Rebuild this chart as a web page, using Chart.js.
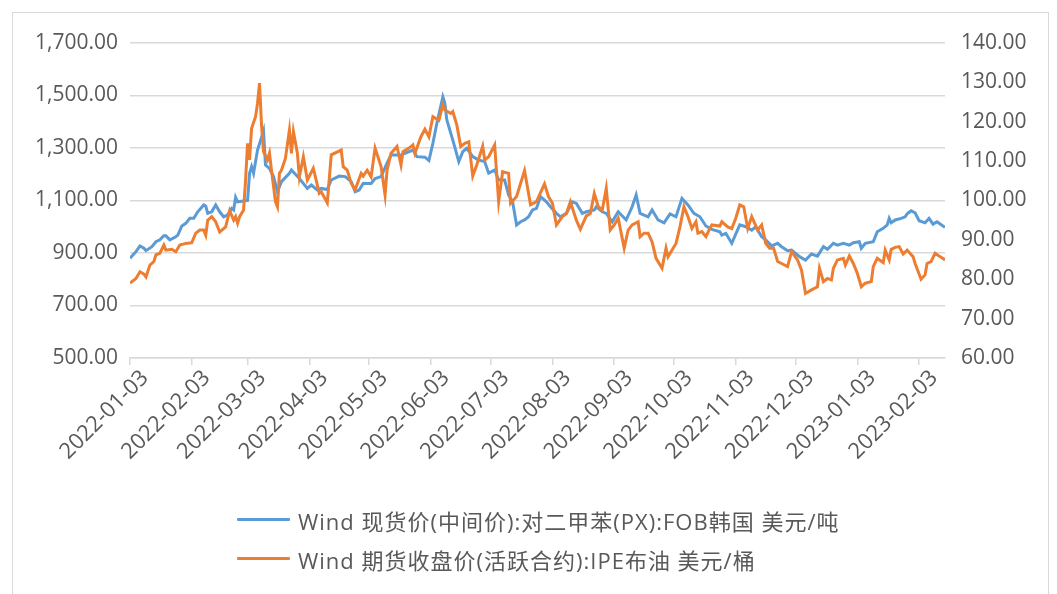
<!DOCTYPE html>
<html><head><meta charset="utf-8">
<script src="https://cdn.jsdelivr.net/npm/chart.js@4.4.1/dist/chart.umd.min.js"></script>
<style>
html,body{margin:0;padding:0;background:#fff;}
#wrap{position:relative;width:1057px;height:594px;overflow:hidden;background:#fff;}
#frame{position:absolute;left:12px;top:12px;width:1037px;height:620px;border:1px solid #d9d9d9;box-sizing:border-box;}
#c{position:absolute;left:0;top:0;}
#legend{position:absolute;left:237px;top:500px;font-family:'Open Sans','Noto Sans CJK SC',sans-serif;font-size:22px;letter-spacing:1px;color:#595959;}
.item{display:flex;align-items:center;height:39px;white-space:nowrap;}
.swatch{width:53px;height:3px;margin-right:8px;border-radius:1px;}
</style></head>
<body>
<div id="wrap">
<div id="frame"></div>
<canvas id="c" width="1057" height="594"></canvas>
<div id="legend"></div>
</div>
<script>
// ---- data ----
const seriesNames = ['Wind 现货价(中间价):对二甲苯(PX):FOB韩国 美元/吨', 'Wind 期货收盘价(活跃合约):IPE布油 美元/桶'];
const tickLabels = ['2022-01-03','2022-02-03','2022-03-03','2022-04-03','2022-05-03','2022-06-03','2022-07-03','2022-08-03','2022-09-03','2022-10-03','2022-11-03','2022-12-03','2023-01-03','2023-02-03'];
const axisStart = '2022-01-03';
const axisEnd = '2023-02-16';

const pxDates = ['2022-01-03','2022-01-06','2022-01-08','2022-01-10','2022-01-11','2022-01-14','2022-01-16','2022-01-18','2022-01-20','2022-01-21','2022-01-23','2022-01-26','2022-01-27','2022-01-29','2022-01-31','2022-02-02','2022-02-04','2022-02-06','2022-02-09','2022-02-10','2022-02-11','2022-02-13','2022-02-15','2022-02-17','2022-02-19','2022-02-21','2022-02-23','2022-02-24','2022-02-25','2022-02-26','2022-03-01','2022-03-03','2022-03-04','2022-03-05','2022-03-06','2022-03-08','2022-03-10','2022-03-11','2022-03-12','2022-03-14','2022-03-16','2022-03-18','2022-03-20','2022-03-24','2022-03-25','2022-03-29','2022-04-02','2022-04-04','2022-04-07','2022-04-09','2022-04-12','2022-04-14','2022-04-18','2022-04-21','2022-04-24','2022-04-26','2022-04-28','2022-04-30','2022-05-04','2022-05-06','2022-05-09','2022-05-12','2022-05-14','2022-05-19','2022-05-21','2022-05-25','2022-05-27','2022-05-31','2022-06-02','2022-06-04','2022-06-06','2022-06-09','2022-06-10','2022-06-11','2022-06-14','2022-06-17','2022-06-19','2022-06-21','2022-06-24','2022-06-27','2022-06-30','2022-07-02','2022-07-05','2022-07-07','2022-07-10','2022-07-12','2022-07-14','2022-07-16','2022-07-18','2022-07-20','2022-07-22','2022-07-24','2022-07-26','2022-07-28','2022-07-31','2022-08-02','2022-08-05','2022-08-07','2022-08-10','2022-08-13','2022-08-15','2022-08-18','2022-08-20','2022-08-24','2022-08-25','2022-08-28','2022-08-30','2022-09-02','2022-09-05','2022-09-09','2022-09-12','2022-09-14','2022-09-16','2022-09-20','2022-09-22','2022-09-25','2022-09-28','2022-10-01','2022-10-04','2022-10-07','2022-10-10','2022-10-13','2022-10-16','2022-10-19','2022-10-22','2022-10-26','2022-10-27','2022-10-29','2022-11-01','2022-11-05','2022-11-08','2022-11-11','2022-11-13','2022-11-16','2022-11-18','2022-11-21','2022-11-24','2022-11-26','2022-11-29','2022-12-01','2022-12-05','2022-12-08','2022-12-11','2022-12-14','2022-12-17','2022-12-19','2022-12-22','2022-12-24','2022-12-27','2022-12-30','2023-01-01','2023-01-04','2023-01-05','2023-01-07','2023-01-11','2023-01-13','2023-01-16','2023-01-18','2023-01-19','2023-01-20','2023-01-22','2023-01-25','2023-01-27','2023-01-28','2023-01-30','2023-02-01','2023-02-03','2023-02-06','2023-02-08','2023-02-10','2023-02-12','2023-02-15','2023-02-16'];
const pxValues = [880,905,927,918,909,924,943,950,966,966,950,962,968,1003,1013,1032,1032,1057,1083,1079,1051,1057,1083,1057,1038,1045,1070,1064,1112,1095,1098,1100,1204,1229,1204,1292,1340,1365,1235,1222,1191,1133,1172,1204,1216,1184,1146,1159,1140,1146,1142,1178,1193,1191,1172,1133,1140,1165,1165,1184,1191,1242,1273,1273,1280,1292,1267,1265,1252,1318,1394,1495,1470,1407,1330,1248,1286,1299,1267,1254,1248,1204,1216,1178,1178,1121,1095,1007,1019,1026,1038,1064,1070,1115,1095,1076,1051,1038,1051,1095,1089,1051,1057,1064,1076,1057,1051,1019,1057,1026,1076,1121,1051,1038,1064,1026,1015,1049,1038,1108,1083,1051,1038,1003,990,981,968,975,937,1007,1000,987,1000,962,950,927,937,924,909,911,886,873,896,888,924,914,937,930,937,930,939,943,918,937,943,981,994,1007,1032,1015,1026,1032,1038,1049,1061,1053,1023,1015,1032,1010,1019,1003,998];

const brentDates = ['2022-01-03','2022-01-06','2022-01-08','2022-01-10','2022-01-11','2022-01-13','2022-01-15','2022-01-16','2022-01-18','2022-01-20','2022-01-21','2022-01-24','2022-01-26','2022-01-28','2022-01-31','2022-02-03','2022-02-05','2022-02-07','2022-02-09','2022-02-10','2022-02-11','2022-02-13','2022-02-15','2022-02-17','2022-02-20','2022-02-22','2022-02-24','2022-02-25','2022-02-26','2022-02-27','2022-03-01','2022-03-02','2022-03-03','2022-03-04','2022-03-05','2022-03-07','2022-03-08','2022-03-09','2022-03-10','2022-03-11','2022-03-13','2022-03-14','2022-03-15','2022-03-17','2022-03-18','2022-03-19','2022-03-20','2022-03-22','2022-03-24','2022-03-25','2022-03-26','2022-03-28','2022-03-29','2022-03-31','2022-04-02','2022-04-05','2022-04-08','2022-04-09','2022-04-12','2022-04-14','2022-04-19','2022-04-20','2022-04-22','2022-04-24','2022-04-26','2022-04-29','2022-04-30','2022-05-02','2022-05-04','2022-05-06','2022-05-09','2022-05-11','2022-05-12','2022-05-14','2022-05-17','2022-05-19','2022-05-20','2022-05-23','2022-05-25','2022-05-26','2022-05-29','2022-05-31','2022-06-02','2022-06-04','2022-06-07','2022-06-09','2022-06-10','2022-06-13','2022-06-14','2022-06-16','2022-06-18','2022-06-20','2022-06-22','2022-06-24','2022-06-26','2022-06-29','2022-06-30','2022-07-02','2022-07-05','2022-07-07','2022-07-09','2022-07-12','2022-07-13','2022-07-16','2022-07-20','2022-07-23','2022-07-26','2022-07-30','2022-08-01','2022-08-03','2022-08-05','2022-08-08','2022-08-10','2022-08-12','2022-08-15','2022-08-17','2022-08-20','2022-08-22','2022-08-24','2022-08-26','2022-08-28','2022-08-30','2022-09-01','2022-09-03','2022-09-05','2022-09-08','2022-09-10','2022-09-12','2022-09-15','2022-09-16','2022-09-18','2022-09-20','2022-09-22','2022-09-24','2022-09-27','2022-09-29','2022-09-30','2022-10-04','2022-10-06','2022-10-08','2022-10-10','2022-10-12','2022-10-14','2022-10-15','2022-10-17','2022-10-19','2022-10-21','2022-10-22','2022-10-26','2022-10-27','2022-10-30','2022-11-01','2022-11-03','2022-11-05','2022-11-07','2022-11-09','2022-11-11','2022-11-14','2022-11-16','2022-11-18','2022-11-20','2022-11-22','2022-11-24','2022-11-26','2022-11-29','2022-12-01','2022-12-04','2022-12-06','2022-12-08','2022-12-11','2022-12-14','2022-12-15','2022-12-17','2022-12-19','2022-12-21','2022-12-22','2022-12-24','2022-12-27','2022-12-28','2022-12-30','2023-01-01','2023-01-03','2023-01-05','2023-01-07','2023-01-10','2023-01-11','2023-01-13','2023-01-16','2023-01-17','2023-01-19','2023-01-20','2023-01-22','2023-01-24','2023-01-26','2023-01-28','2023-01-31','2023-02-01','2023-02-04','2023-02-06','2023-02-07','2023-02-09','2023-02-11','2023-02-13','2023-02-15','2023-02-16'];
const brentValues = [79.0,80.2,81.9,81.3,80.6,83.6,84.5,86.2,86.6,88.7,87.4,87.6,87.0,88.7,89.1,89.3,91.7,92.5,92.5,91.2,95.0,95.9,94.6,92.0,93.3,97.4,95.0,95.9,94.2,95.9,97.6,105.2,114.5,110.3,118.3,121.3,124.7,129.8,119.2,112.4,110.3,112.0,107.7,99.7,98.4,106.9,107.7,110.7,117.9,112.0,117.5,112.0,106.0,111.1,105.2,108.2,101.8,102.2,99.4,111.6,112.8,108.6,107.7,104.4,102.7,106.9,106.2,107.7,106.0,113.3,108.6,101.4,107.7,112.0,113.7,109.0,112.4,113.3,114.1,112.0,116.2,118.1,116.2,121.3,120.4,124.3,123.0,122.1,122.6,119.2,113.7,114.5,114.9,106.2,109.0,113.8,110.3,111.1,114.1,99.7,107.3,106.9,99.3,101.0,107.6,98.9,99.7,104.2,101.0,99.3,93.8,95.9,96.7,99.7,95.0,92.7,96.1,96.7,101.8,98.4,97.6,103.1,92.5,93.8,95.5,87.9,92.5,93.8,94.6,90.8,91.7,91.7,89.5,85.3,82.8,87.9,85.7,89.1,93.3,98.4,95.9,92.9,94.6,91.7,92.1,90.8,92.9,93.8,93.5,94.6,93.3,92.9,95.5,98.9,98.4,92.9,95.9,92.5,93.8,89.1,87.9,87.9,84.5,84.0,83.2,87.0,84.9,82.3,76.4,77.3,78.1,82.8,79.4,80.2,79.8,82.8,84.9,85.3,83.6,85.9,84.0,81.5,78.1,79.0,79.4,83.2,85.3,84.2,87.4,84.9,87.6,88.1,88.3,86.4,87.4,85.7,84.0,80.0,81.1,84.0,84.5,86.6,85.9,85.3,84.9];

// ---- helpers ----
function dayOf(s){ const p=s.split('-').map(Number); return (Date.UTC(p[0],p[1]-1,p[2]) - Date.UTC(2022,0,3))/86400000; }
const toPoints = (dates, vals) => dates.map((d,i)=>({x: dayOf(d), y: vals[i]}));

const FONT = "'Open Sans','Noto Sans CJK SC',sans-serif";
const TXT = '#595959';
const GRID = '#d9d9d9';
const BLUE = '#5B9BD5';
const ORANGE = '#ED7D31';

// HTML legend
const lg = document.getElementById('legend');
[[seriesNames[0],BLUE],[seriesNames[1],ORANGE]].forEach(([t,c])=>{
  const it=document.createElement('div'); it.className='item';
  const sw=document.createElement('div'); sw.className='swatch'; sw.style.background=c;
  const sp=document.createElement('span'); sp.textContent=t;
  it.appendChild(sw); it.appendChild(sp); lg.appendChild(it);
});

new Chart(document.getElementById('c'), {
  type: 'line',
  data: {
    datasets: [
      {label: seriesNames[0], data: toPoints(pxDates, pxValues), yAxisID: 'y', borderColor: BLUE, borderWidth: 3, pointRadius: 0, tension: 0, order: 2},
      {label: seriesNames[1], data: toPoints(brentDates, brentValues), yAxisID: 'y1', borderColor: ORANGE, borderWidth: 3, pointRadius: 0, tension: 0, order: 1}
    ]
  },
  options: {
    responsive: false,
    animation: false,
    layout: {padding: {left: 20, right: 20, top: 43, bottom: 0}},
    plugins: {legend: {display: false}, tooltip: {enabled: false}},
    scales: {
      x: {
        type: 'linear',
        min: dayOf(axisStart), max: dayOf(axisEnd),
        afterBuildTicks: (s) => { s.ticks = tickLabels.map(t => ({value: dayOf(t)})); },
        afterFit: (s) => { s.height = 594 - 358; },
        grid: {display: true, drawOnChartArea: false, drawTicks: true, tickLength: 7, color: GRID, lineWidth: 1.5},
        border: {display: true, color: GRID, width: 1.5},
        ticks: {
          autoSkip: false, maxRotation: 45, minRotation: 45, padding: 0, labelOffset: 15,
          color: TXT, font: {family: FONT, size: 22},
          callback: (v, i) => tickLabels[i]
        }
      },
      y: {
        position: 'left', min: 500, max: 1700,
        afterBuildTicks: (s) => { const a=[]; for (let v=500; v<=1700; v+=200) a.push({value:v}); s.ticks=a; },
        afterFit: (s) => { s.width = 110; },
        grid: {color: GRID, lineWidth: 1.5, drawTicks: false},
        border: {display: false},
        ticks: {padding: 12, color: TXT, font: {family: FONT, size: 21},
          callback: (v) => Number(v).toLocaleString('en-US', {minimumFractionDigits: 2, maximumFractionDigits: 2})}
      },
      y1: {
        position: 'right', min: 60, max: 140,
        afterBuildTicks: (s) => { const a=[]; for (let v=60; v<=140; v+=10) a.push({value:v}); s.ticks=a; },
        afterFit: (s) => { s.width = 1057 - 945 - 20; },
        grid: {drawOnChartArea: false, drawTicks: false},
        border: {display: false},
        ticks: {padding: 16, color: TXT, font: {family: FONT, size: 21},
          callback: (v) => Number(v).toFixed(2)}
      }
    }
  }
});
</script>
</body></html>
